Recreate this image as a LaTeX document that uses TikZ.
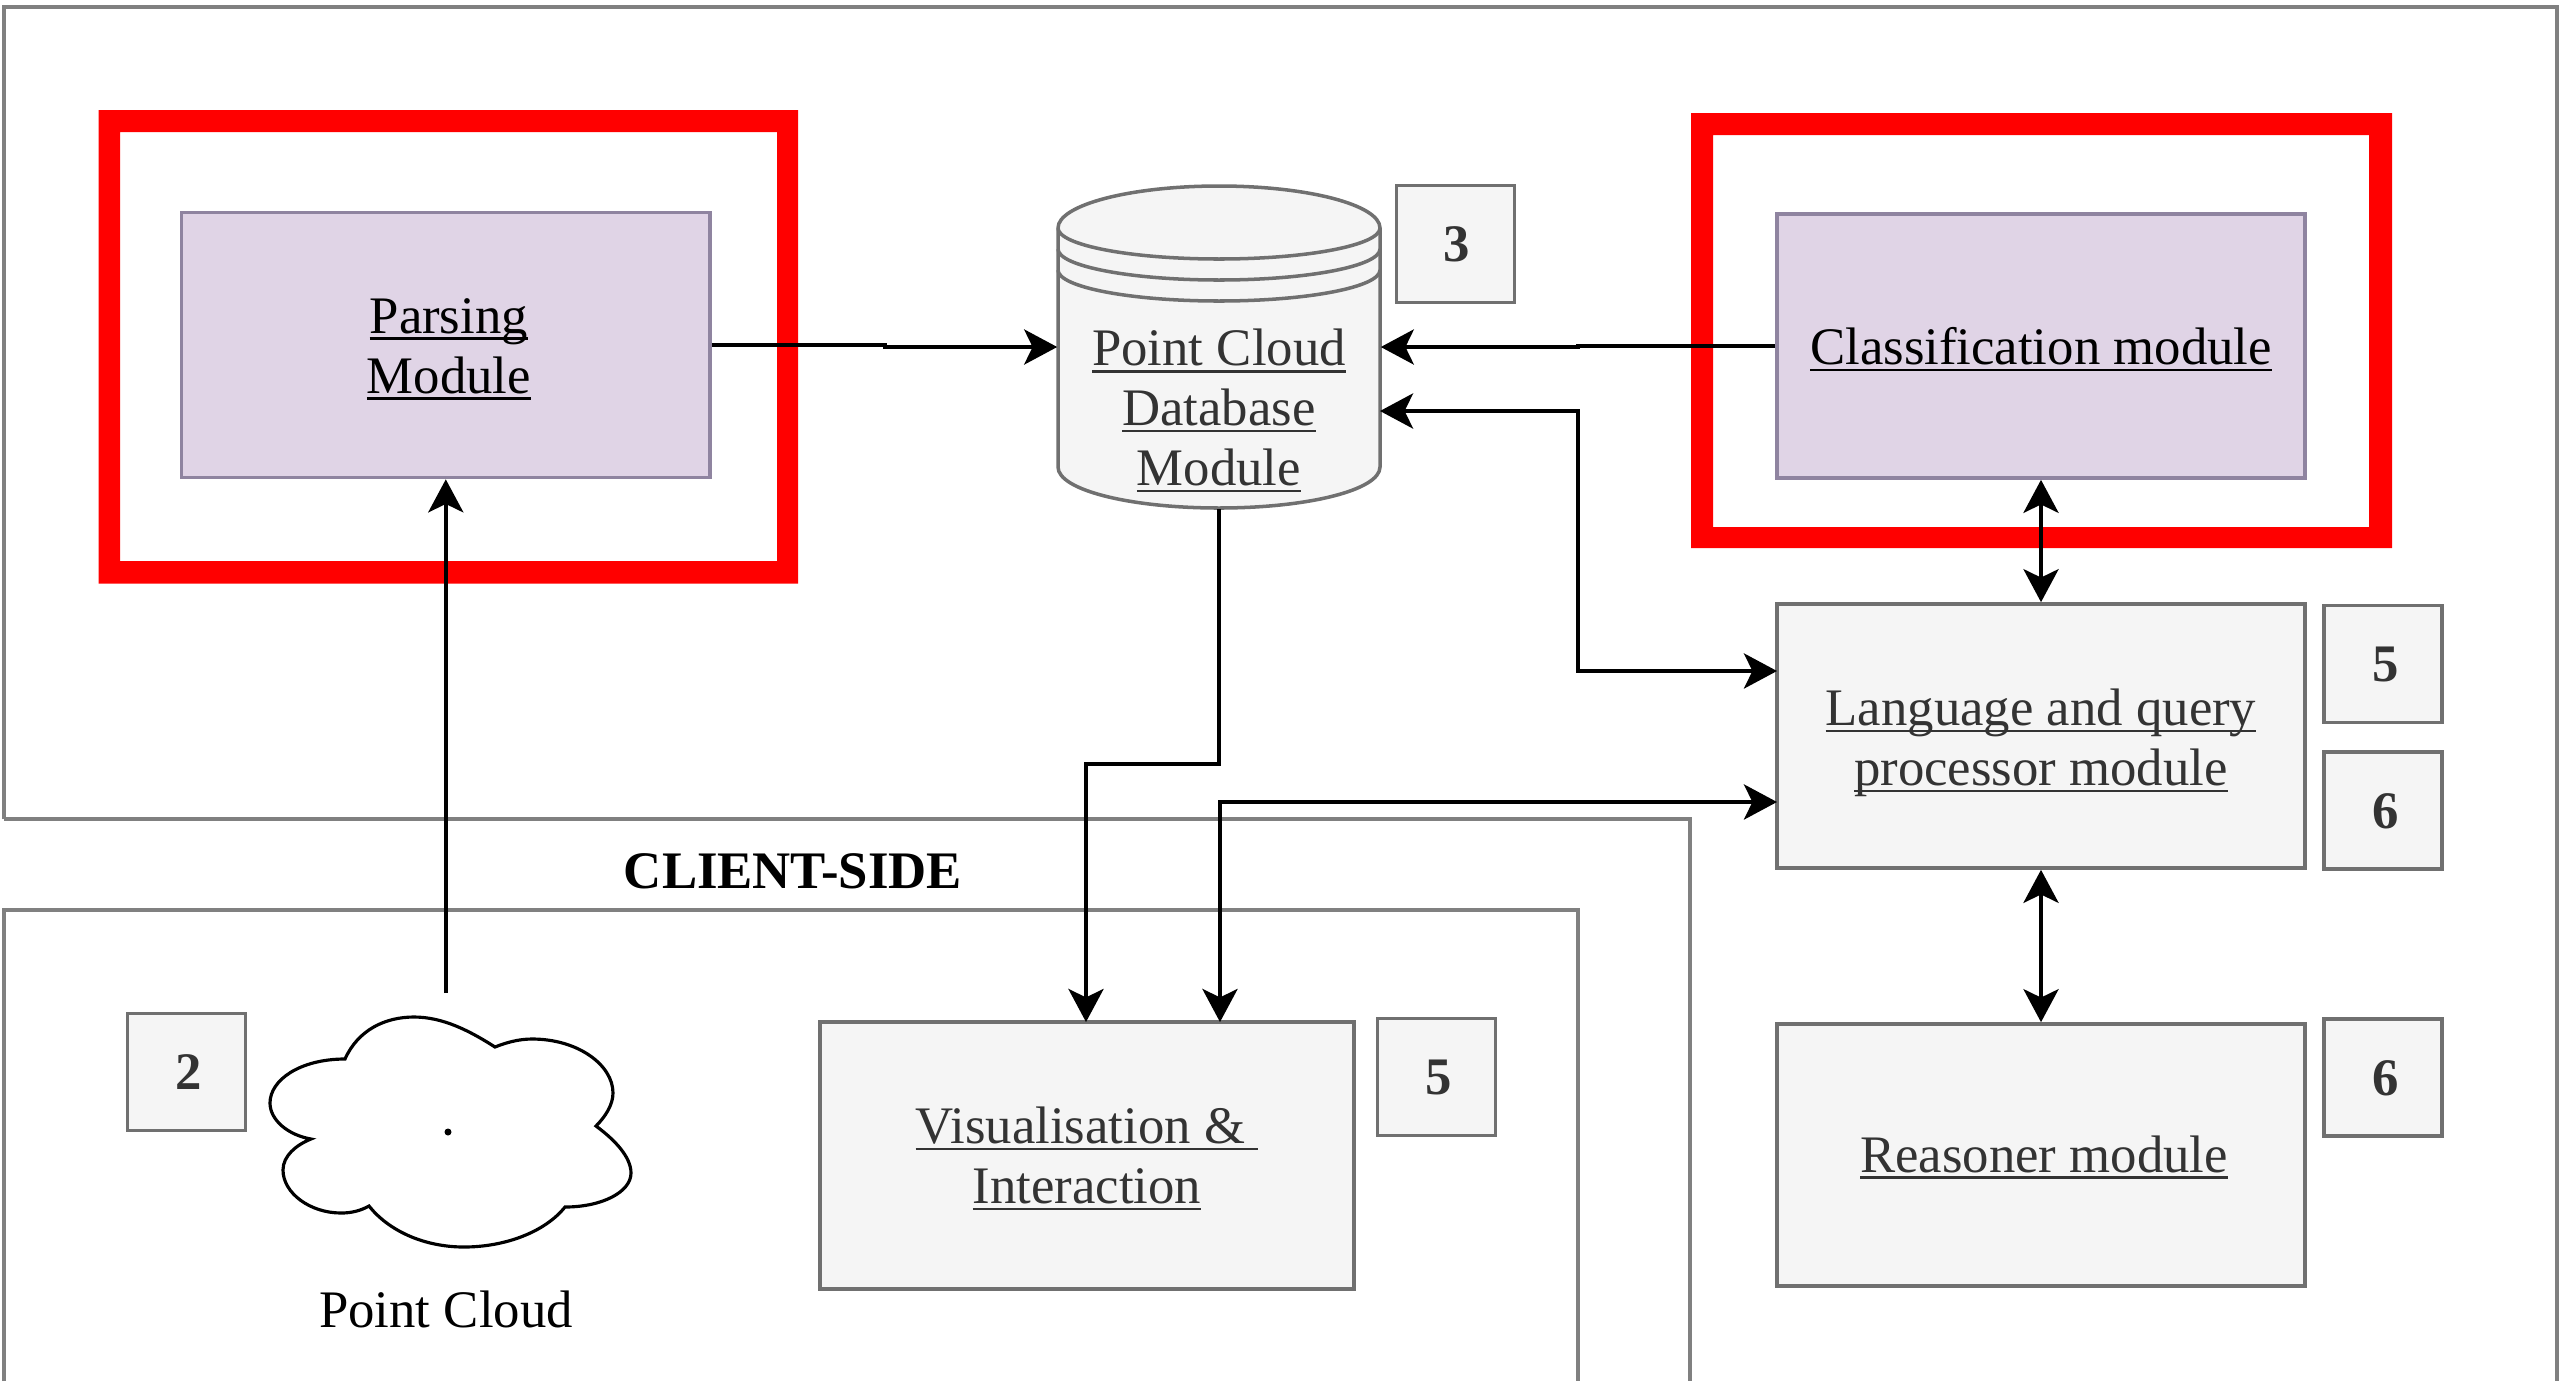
\documentclass[tikz,border=0pt]{standalone}
\usepackage{fontspec}
\setmainfont{Liberation Serif}
\usetikzlibrary{arrows.meta}
\definecolor{purplefill}{HTML}{E0D4E6}
\definecolor{purpleline}{HTML}{8F84A0}
\definecolor{greyfill}{HTML}{F5F5F5}
\definecolor{greyline}{HTML}{707070}
\definecolor{frameline}{HTML}{808080}
\definecolor{greytext}{HTML}{333333}
\newlength{\pxu}\setlength{\pxu}{0.01cm}
\newcommand\ulx[1]{\setbox0\hbox{#1}\rlap{\copy0}\rlap{\raisebox{-1.9pt}{\rule{\wd0}{0.75pt}}}\hskip\wd0}
\newcommand\txtlines[3][0]{\raisebox{-#2\pxu}[0pt][0pt]{\kern#1\pxu\vbox{\baselineskip=17.0pt\lineskiplimit=-10pt\halign{\hfil##\hfil\cr#3\cr}}}}
\tikzset{
  x=0.01cm,y=-0.01cm,
  base font/.style={font=\fontsize{15pt}{17pt}\selectfont},
  modbox/.style={draw,rectangle,inner sep=0pt,line width=1pt,base font},
  purplebox/.style={modbox,fill=purplefill,draw=purpleline,text=black},
  greybox/.style={modbox,fill=greyfill,draw=greyline,text=greytext},
  badge/.style={modbox,fill=greyfill,draw=greyline,text=greytext,minimum width=1.18cm,minimum height=1.17cm,font=\fontsize{15pt}{17pt}\selectfont\bfseries},
  frameln/.style={draw=frameline,line width=1pt},
  conn/.style={draw=black,line width=1pt,-{Stealth[length=9.4pt,width=10pt,inset=2.4pt]}},
  biconn/.style={draw=black,line width=1pt,{Stealth[length=9.4pt,width=10pt,inset=2.4pt]}-{Stealth[length=9.4pt,width=10pt,inset=2.4pt]}},
  cylline/.style={draw=greyline,line width=1pt},
  plainlabel/.style={base font,anchor=base,inner sep=0pt},
}
\begin{document}
\begin{tikzpicture}
\useasboundingbox[fill=white] (0,0) rectangle (2560,1381);
% frames
\draw[frameln] (4,819) -- (4,7) -- (2557,7) -- (2557,1381);
\draw[frameln] (4,819) -- (1690,819) -- (1690,1381);
\draw[frameln] (4,1381) -- (4,910) -- (1578,910) -- (1578,1381);
% red highlight rectangles
\fill[red,even odd rule] (98.6,110) rectangle (798,583.6) (120,132) rectangle (777,561);
\fill[red,even odd rule] (1691,113) rectangle (2392,548) (1713,135) rectangle (2369,527);
% cylinder
\path[fill=greyfill] (1058,228) .. controls (1058,205) and (1130,186) .. (1219,186) .. controls (1308,186) and (1380,205) .. (1380,228) -- (1380,467) .. controls (1380,490) and (1308,508) .. (1219,508) .. controls (1130,508) and (1058,490) .. (1058,467) -- cycle;
\draw[cylline] (1058,228) .. controls (1058,205) and (1130,186) .. (1219,186) .. controls (1308,186) and (1380,205) .. (1380,228) -- (1380,467) .. controls (1380,490) and (1308,508) .. (1219,508) .. controls (1130,508) and (1058,490) .. (1058,467) -- cycle;
\foreach \d in {0,21,42}{
  \draw[cylline] (1058,228+\d) .. controls (1058,245+\d) and (1130,259+\d) .. (1219,259+\d) .. controls (1308,259+\d) and (1380,245+\d) .. (1380,228+\d);
}
% nodes
\node[purplebox,minimum width=5.284cm,minimum height=2.65cm] (parsing) at (445.8,345) {\txtlines[6]{48}{\ulx{Parsing}\cr\ulx{Module}}};
\node[purplebox,minimum width=5.28cm,minimum height=2.64cm] (class) at (2041,346) {\txtlines{18.5}{\ulx{Classification module}}};
\node[greybox,minimum width=5.28cm,minimum height=2.64cm] (lang) at (2041,736) {\txtlines{49.5}{\ulx{Language and query}\cr\ulx{processor module}}};
\node[greybox,minimum width=5.28cm,minimum height=2.62cm] (reasoner) at (2041,1155) {\txtlines[6]{17}{\ulx{Reasoner module}}};
\node[greybox,minimum width=5.34cm,minimum height=2.67cm] (vis) at (1087,1155.5) {\txtlines{48}{\ulx{Visualisation \&\ }\cr\ulx{Interaction}}};
\node[inner sep=0pt,minimum width=3.22cm,minimum height=3.22cm,text=greytext,base font] (db) at (1219,347) {\txtlines{138.5}{\ulx{Point Cloud}\cr\ulx{Database}\cr\ulx{Module}}};
\node[badge] (b3) at (1455.5,244) {\txtlines[2]{17.5}{3}};
\node[badge] (b2) at (186.5,1072) {\txtlines[4]{17.5}{2}};
\node[badge] (b5v) at (1436.5,1077) {\txtlines[4]{17.5}{5}};
\node[badge] (b5l) at (2383,664) {\txtlines[5]{17.5}{5}};
\node[badge] (b6l) at (2383,810.5) {\txtlines[5]{17.5}{6}};
\node[badge] (b6r) at (2383,1077.5) {\txtlines[5]{17.5}{6}};
\node[plainlabel,font=\fontsize{15pt}{17pt}\selectfont\bfseries] (client) at (793,888) {CLIENT-SIDE};
% cloud
\draw[black,line width=0.9pt,fill=white] (345,1059) .. controls (358,1030) and (385,1017) .. (414,1017) .. controls (443,1017) and (470,1031) .. (495,1047)
 .. controls (505,1043) and (518,1039) .. (532,1039) .. controls (578,1039) and (613,1065) .. (613,1093) .. controls (613,1105) and (605,1117) .. (596,1126)
 .. controls (615,1140) and (631,1157) .. (631,1173) .. controls (631,1192) and (602,1207) .. (565,1207)
 .. controls (545,1232) and (505,1247) .. (464,1247) .. controls (423,1247) and (388,1230) .. (369,1206)
 .. controls (360,1211) and (351,1213) .. (341,1213) .. controls (310,1213) and (283,1193) .. (283,1170) .. controls (283,1156) and (296,1145) .. (311,1139)
 .. controls (288,1135) and (270,1120) .. (270,1103) .. controls (270,1080) and (300,1059) .. (345,1059) -- cycle;
\fill[black] (448,1132) circle[radius=3.5];
\node[plainlabel] (ptlabel) at (446,1327) {Point Cloud};
% connector ends
\coordinate (cloudtop) at (445.8,993);
\coordinate (p1) at (885,345);
\coordinate (p2) at (885,347);
\coordinate (c1) at (1578,346);
\coordinate (c2) at (1578,347);
\coordinate (dbr) at (1380,411);
\coordinate (lin1) at (1777,671);
\coordinate (lin2) at (1777,802);
\coordinate (mid) at (1578,411);
\coordinate (v1) at (1086,1022);
\coordinate (v2) at (1220,1022);
\coordinate (bend1) at (1086,764);
\coordinate (bend2) at (1220,802);
% connectors
\draw[conn] (cloudtop) -- (parsing.south);
\draw[conn] (parsing.east) -- (p1) -- (p2) -- (db.west);
\draw[conn] (class.west) -- (c1) -- (c2) -- (db.east);
\draw[biconn] (dbr) -- (mid) |- (lin1);
\draw[biconn] (class.south) -- (lang.north);
\draw[biconn] (lang.south) -- (reasoner.north);
\draw[conn] (db.south) |- (bend1) -- (v1);
\draw[biconn] (lin2) -- (bend2) -- (v2);
\end{tikzpicture}
\end{document}
